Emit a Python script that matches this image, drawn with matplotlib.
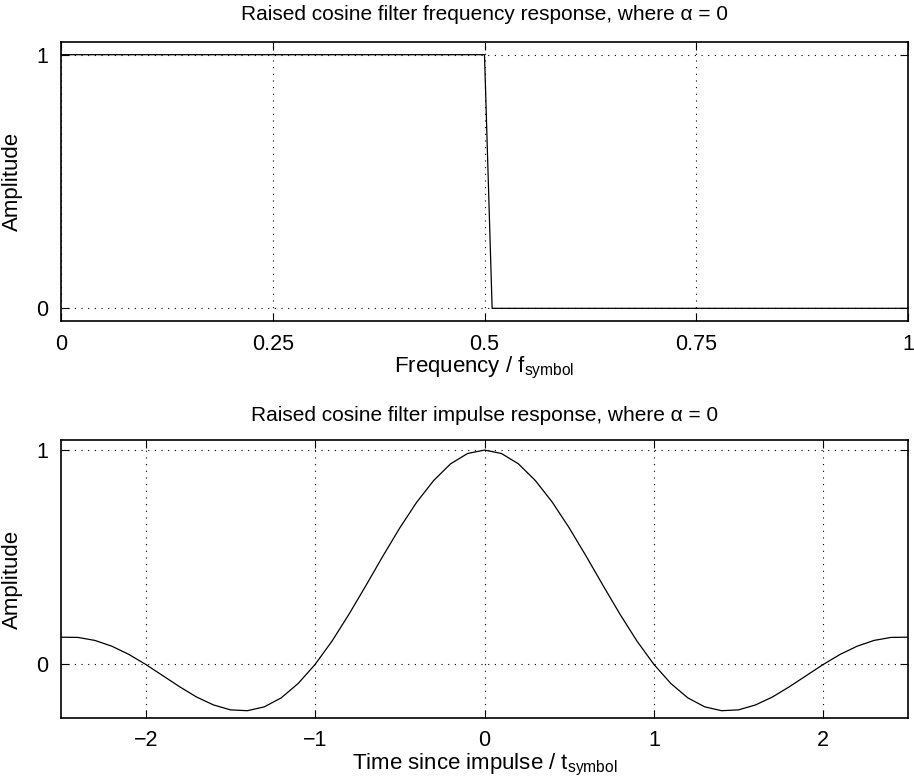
import matplotlib.pyplot as plt

plt.rcParams['font.family'] = ['Liberation Sans', 'DejaVu Sans']
plt.rcParams['mathtext.fontset'] = 'custom'
plt.rcParams['mathtext.rm'] = 'Liberation Sans'
plt.rcParams['mathtext.it'] = 'Liberation Sans'
plt.rcParams['font.size'] = 15

# frequency response samples (alpha = 0, brick-wall)
freq = [0.0, 0.5, 0.509, 1.0]
freq_amp = [1.0, 1.0, 0.0, 0.0]

# impulse response samples, every 0.1 symbol
time = [round(-2.5 + 0.1 * i, 1) for i in range(51)]
impulse_amp = [
    0.127, 0.126, 0.112, 0.085, 0.047, 0.0, -0.052, -0.104, -0.152, -0.189,
    -0.212, -0.216, -0.198, -0.156, -0.089, 0.0, 0.109, 0.234, 0.368, 0.505,
    0.637, 0.757, 0.858, 0.936, 0.984, 1.0, 0.984, 0.936, 0.858, 0.757,
    0.637, 0.505, 0.368, 0.234, 0.109, 0.0, -0.089, -0.156, -0.198, -0.216,
    -0.212, -0.189, -0.152, -0.104, -0.052, 0.0, 0.047, 0.085, 0.112, 0.126,
    0.127,
]

freq_ticks = [0, 0.25, 0.5, 0.75, 1]
freq_ticklabels = ['0', '0.25', '0.5', '0.75', '1']
time_ticks = [-2, -1, 0, 1, 2]
amp_ticks = [0, 1]

fig = plt.figure(figsize=(9.14, 7.83), dpi=100)
W, H = 914, 783


def style_axes(ax):
    ax.tick_params(direction='in', top=True, right=True, length=6, width=0.8,
                   pad=9, labelsize=15.5)
    for sp in ax.spines.values():
        sp.set_linewidth(1.2)
    ax.grid(True, color='black', linestyle=(0, (1, 5)), linewidth=0.8)


ax1 = fig.add_axes([61 / W, 1 - 321 / H, 847 / W, 279 / H])
ax1.plot(freq, freq_amp, color='black', linewidth=0.9)
ax1.set_xlim(0, 1)
ax1.set_ylim(-0.05, 1.05)
ax1.set_xticks(freq_ticks)
ax1.set_xticklabels(freq_ticklabels)
ax1.set_yticks(amp_ticks)
style_axes(ax1)
ax1.set_title('Raised cosine filter frequency response, where α = 0',
              fontsize=15, pad=16)
ax1.set_xlabel(r'Frequency / f$_{\mathrm{symbol}}$', fontsize=16, labelpad=0)
ax1.set_ylabel('Amplitude', fontsize=16, labelpad=10)

ax2 = fig.add_axes([61 / W, 1 - 718 / H, 847 / W, 278 / H])
ax2.plot(time, impulse_amp, color='black', linewidth=0.9)
ax2.set_xlim(-2.5, 2.5)
ax2.set_ylim(-0.25, 1.047)
ax2.set_xticks(time_ticks)
ax2.set_yticks(amp_ticks)
style_axes(ax2)
ax2.set_title('Raised cosine filter impulse response, where α = 0',
              fontsize=15, pad=14)
ax2.set_xlabel(r'Time since impulse / t$_{\mathrm{symbol}}$', fontsize=16, labelpad=0)
ax2.set_ylabel('Amplitude', fontsize=16, labelpad=10)

fig.savefig('out.png', dpi=100)
